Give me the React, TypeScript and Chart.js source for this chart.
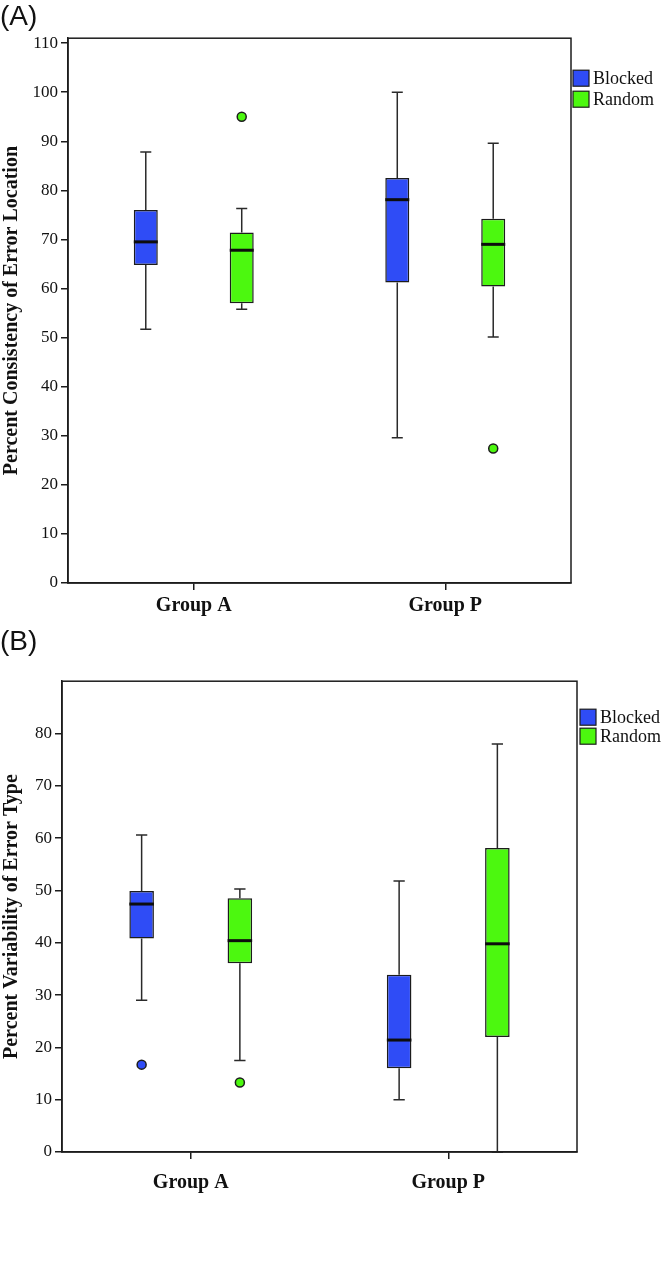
import React, { useEffect, useRef } from 'react';
import { Chart, registerables } from 'chart.js';

Chart.register(...registerables);

// ---------- shared ----------
const categories = ['Group A', 'Group P'];
const seriesNames = ['Blocked', 'Random'];
const seriesColors = ['#2f4cf6', '#4cf80f'];

// ---------- Panel A: Percent Consistency of Error Location ----------
const aYTicks = [0, 10, 20, 30, 40, 50, 60, 70, 80, 90, 100, 110];
const aBlockedMin = [51.7, 29.6];
const aBlockedQ1 = [64.8, 61.2];
const aBlockedMedian = [69.5, 78.1];
const aBlockedQ3 = [76.0, 82.5];
const aBlockedMax = [87.8, 100.0];
const aBlockedOutliers = [[], []];
const aRandomMin = [55.8, 50.1];
const aRandomQ1 = [57.0, 60.4];
const aRandomMedian = [67.8, 69.0];
const aRandomQ3 = [71.4, 74.2];
const aRandomMax = [76.3, 89.6];
const aRandomOutliers = [[95.0], [27.4]];

// ---------- Panel B: Percent Variability of Error Type ----------
const bYTicks = [0, 10, 20, 30, 40, 50, 60, 70, 80];
const bBlockedMin = [29.0, 10.0];
const bBlockedQ1 = [40.8, 16.0];
const bBlockedMedian = [47.4, 21.4];
const bBlockedQ3 = [49.9, 33.9];
const bBlockedMax = [60.6, 51.8];
const bBlockedOutliers = [[16.7], []];
const bRandomMin = [17.5, 0];
const bRandomQ1 = [36.1, 22.0];
const bRandomMedian = [40.4, 39.8];
const bRandomQ3 = [48.5, 58.1];
const bRandomMax = [50.3, 78.0];
const bRandomOutliers = [[13.3], []];

const INK = '#1c1c1c';
const SERIF = "'Liberation Serif', 'Times New Roman', serif";
const SANS = "'Liberation Sans', Arial, sans-serif";

const boxPlugin = {
  id: 'boxWhiskers',
  afterDatasetsDraw(chart: any) {
    const ctx = chart.ctx;
    const ys = chart.scales.y;
    chart.data.datasets.forEach((ds: any, i: number) => {
      const meta = chart.getDatasetMeta(i);
      const st = ds.stats;
      meta.data.forEach((bar: any, j: number) => {
        const cx = bar.x;
        const w = bar.width;
        const cap = w * 0.46;
        const pMin = ys.getPixelForValue(st.min[j]);
        const pQ1 = ys.getPixelForValue(st.q1[j]);
        const pMed = ys.getPixelForValue(st.median[j]);
        const pQ3 = ys.getPixelForValue(st.q3[j]);
        const pMax = ys.getPixelForValue(st.max[j]);
        ctx.save();
        ctx.strokeStyle = '#2a2a2a';
        ctx.lineWidth = 1.5;
        ctx.beginPath();
        ctx.moveTo(cx, pQ3);
        ctx.lineTo(cx, pMax);
        ctx.moveTo(cx - cap / 2, pMax);
        ctx.lineTo(cx + cap / 2, pMax);
        ctx.moveTo(cx, pQ1);
        ctx.lineTo(cx, pMin);
        ctx.moveTo(cx - cap / 2, pMin);
        ctx.lineTo(cx + cap / 2, pMin);
        ctx.stroke();
        ctx.strokeStyle = '#0d0d0d';
        ctx.lineWidth = 3;
        ctx.beginPath();
        ctx.moveTo(cx - w / 2, pMed);
        ctx.lineTo(cx + w / 2, pMed);
        ctx.stroke();
        (st.outliers[j] || []).forEach((v: number) => {
          ctx.beginPath();
          ctx.arc(cx, ys.getPixelForValue(v), 4.5, 0, Math.PI * 2);
          ctx.fillStyle = ds.backgroundColor;
          ctx.fill();
          ctx.lineWidth = 1.5;
          ctx.strokeStyle = INK;
          ctx.stroke();
        });
        ctx.restore();
      });
    });
  },
  afterDraw(chart: any) {
    const ctx = chart.ctx;
    const a = chart.chartArea;
    const lg = chart.options.plugins.boxLegend || {};
    ctx.save();
    // frame
    ctx.strokeStyle = INK;
    ctx.lineWidth = 1.5;
    ctx.strokeRect(a.left, a.top, a.right - a.left, a.bottom - a.top);
    // legend
    ctx.font = `18px ${SERIF}`;
    ctx.textBaseline = 'middle';
    ctx.textAlign = 'left';
    chart.data.datasets.forEach((ds: any, i: number) => {
      const x = a.right + (lg.dx || 3);
      const y = a.top + (lg.dy || 30) + i * (lg.step || 20);
      ctx.fillStyle = ds.backgroundColor;
      ctx.fillRect(x, y, 16, 16);
      ctx.lineWidth = 1.2;
      ctx.strokeStyle = INK;
      ctx.strokeRect(x, y, 16, 16);
      ctx.fillStyle = '#111';
      ctx.fillText(ds.label, x + 20, y + 9);
    });
    ctx.restore();
  },
};

type Stats = { min: number[]; q1: number[]; median: number[]; q3: number[]; max: number[]; outliers: number[][] };

function makeConfig(p: {
  tag: string;
  yTitle: string;
  yTicks: number[];
  yMax: number;
  series: Stats[];
  padRight: number;
  titleGap: number;
  xAxisHeight: number;
  xLabelPad: number;
  yAxisWidth: number;
  legend: { dx: number; dy: number; step: number };
}) {
  return {
    type: 'bar',
    data: {
      labels: categories,
      datasets: p.series.map((s, i) => ({
        label: seriesNames[i],
        data: s.q1.map((q, j) => [q, s.q3[j]]),
        backgroundColor: seriesColors[i],
        borderColor: INK,
        borderWidth: 1.5,
        borderSkipped: false,
        barPercentage: 0.25,
        categoryPercentage: 0.763,
        stats: s,
      })),
    },
    options: {
      responsive: false,
      animation: false,
      events: [],
      layout: { padding: { left: 0, right: p.padRight, top: 0, bottom: 0 } },
      plugins: {
        legend: { display: false },
        tooltip: { enabled: false },
        boxLegend: p.legend,
        title: {
          display: true,
          text: p.tag,
          align: 'start',
          color: '#111',
          font: { family: SANS, size: 28, weight: 'normal', lineHeight: 1.15 },
          padding: { top: 1, bottom: p.titleGap },
        },
      },
      scales: {
        x: {
          type: 'category',
          offset: true,
          grid: { offset: false, drawOnChartArea: false, drawTicks: true, tickLength: 7, color: INK, lineWidth: 1.5 },
          border: { display: true, color: INK, width: 1.5 },
          ticks: { color: '#111', font: { family: SERIF, size: 20, weight: 'bold' }, padding: p.xLabelPad, maxRotation: 0 },
          afterFit: (s: any) => {
            s.height = p.xAxisHeight;
          },
        },
        y: {
          type: 'linear',
          min: 0,
          max: p.yMax,
          afterBuildTicks: (s: any) => {
            s.ticks = p.yTicks.map((v) => ({ value: v }));
          },
          grid: { drawOnChartArea: false, tickLength: 7, color: INK, lineWidth: 1.5 },
          border: { display: true, color: INK, width: 1.5 },
          ticks: { color: '#111', font: { family: SERIF, size: 17 }, padding: 3 },
          title: {
            display: true,
            text: p.yTitle,
            color: '#111',
            font: { family: SERIF, size: 20, weight: 'bold', lineHeight: 1.2 },
            padding: { top: 0, bottom: 0 },
          },
          afterFit: (s: any) => {
            s.width = p.yAxisWidth;
          },
        },
      },
    },
    plugins: [boxPlugin],
  } as any;
}

const configA = () =>
  makeConfig({
    tag: '(A)',
    yTitle: 'Percent Consistency of Error Location',
    yTicks: aYTicks,
    yMax: 111,
    series: [
      { min: aBlockedMin, q1: aBlockedQ1, median: aBlockedMedian, q3: aBlockedQ3, max: aBlockedMax, outliers: aBlockedOutliers },
      { min: aRandomMin, q1: aRandomQ1, median: aRandomMedian, q3: aRandomQ3, max: aRandomMax, outliers: aRandomOutliers },
    ],
    padRight: 93,
    titleGap: 5,
    xAxisHeight: 42,
    xLabelPad: 4,
    yAxisWidth: 68,
    legend: { dx: 2, dy: 32, step: 21 },
  });

const configB = () =>
  makeConfig({
    tag: '(B)',
    yTitle: 'Percent Variability of Error Type',
    yTicks: bYTicks,
    yMax: 90,
    series: [
      { min: bBlockedMin, q1: bBlockedQ1, median: bBlockedMedian, q3: bBlockedQ3, max: bBlockedMax, outliers: bBlockedOutliers },
      { min: bRandomMin, q1: bRandomQ1, median: bRandomMedian, q3: bRandomQ3, max: bRandomMax, outliers: bRandomOutliers },
    ],
    padRight: 87,
    titleGap: 23,
    xAxisHeight: 118,
    xLabelPad: 12,
    yAxisWidth: 62,
    legend: { dx: 3, dy: 28, step: 19 },
  });

export default function App() {
  const refA = useRef<HTMLCanvasElement>(null);
  const refB = useRef<HTMLCanvasElement>(null);

  useEffect(() => {
    document.body.style.margin = '0';
    const ca = new Chart(refA.current as HTMLCanvasElement, configA());
    const cb = new Chart(refB.current as HTMLCanvasElement, configB());
    return () => {
      ca.destroy();
      cb.destroy();
    };
  }, []);

  return (
    <div style={{ position: 'absolute', left: 0, top: 0, width: 664, height: 1270, background: '#fff' }}>
      <canvas ref={refA} width={664} height={625} style={{ position: 'absolute', left: 0, top: 0 }} />
      <canvas ref={refB} width={664} height={645} style={{ position: 'absolute', left: 0, top: 625 }} />
    </div>
  );
}
